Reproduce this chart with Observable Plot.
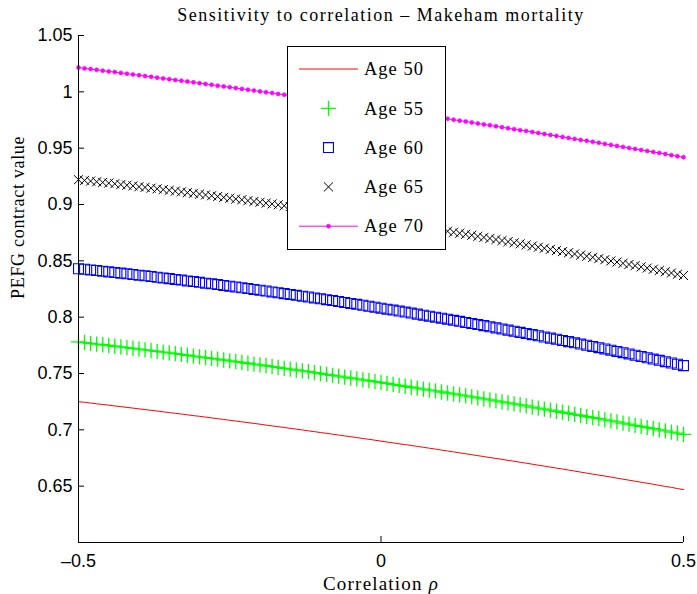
<!DOCTYPE html>
<html>
<head>
<meta charset="utf-8">
<script src="https://cdn.jsdelivr.net/npm/d3@7"></script>
<script src="https://cdn.jsdelivr.net/npm/@observablehq/plot@0.6"></script>
<style>
  html, body { margin: 0; padding: 0; background: #fff; }
</style>
</head>
<body>
<div id="chart"></div>
<script>
// Correlation grid
const rho = [
  -0.50,-0.49,-0.48,-0.47,-0.46,-0.45,-0.44,-0.43,-0.42,-0.41,
  -0.40,-0.39,-0.38,-0.37,-0.36,-0.35,-0.34,-0.33,-0.32,-0.31,
  -0.30,-0.29,-0.28,-0.27,-0.26,-0.25,-0.24,-0.23,-0.22,-0.21,
  -0.20,-0.19,-0.18,-0.17,-0.16,-0.15,-0.14,-0.13,-0.12,-0.11,
  -0.10,-0.09,-0.08,-0.07,-0.06,-0.05,-0.04,-0.03,-0.02,-0.01,
  0.00,
  0.01,0.02,0.03,0.04,0.05,0.06,0.07,0.08,0.09,0.10,
  0.11,0.12,0.13,0.14,0.15,0.16,0.17,0.18,0.19,0.20,
  0.21,0.22,0.23,0.24,0.25,0.26,0.27,0.28,0.29,0.30,
  0.31,0.32,0.33,0.34,0.35,0.36,0.37,0.38,0.39,0.40,
  0.41,0.42,0.43,0.44,0.45,0.46,0.47,0.48,0.49,0.50
];

// PEFG contract values by age at entry
const age50 = [
  0.7250,0.7244,0.7238,0.7231,0.7225,0.7219,0.7212,0.7206,0.7199,0.7193,
  0.7186,0.7180,0.7173,0.7167,0.7160,0.7153,0.7147,0.7140,0.7133,0.7126,
  0.7120,0.7113,0.7106,0.7099,0.7092,0.7085,0.7078,0.7071,0.7064,0.7057,
  0.7050,0.7042,0.7035,0.7028,0.7021,0.7013,0.7006,0.6999,0.6991,0.6984,
  0.6976,0.6969,0.6961,0.6954,0.6946,0.6939,0.6931,0.6923,0.6916,0.6908,
  0.6900,
  0.6892,0.6884,0.6876,0.6869,0.6861,0.6853,0.6845,0.6837,0.6829,0.6820,
  0.6812,0.6804,0.6796,0.6788,0.6779,0.6771,0.6763,0.6754,0.6746,0.6738,
  0.6729,0.6721,0.6712,0.6704,0.6695,0.6686,0.6678,0.6669,0.6660,0.6652,
  0.6643,0.6634,0.6625,0.6616,0.6607,0.6598,0.6590,0.6581,0.6571,0.6562,
  0.6553,0.6544,0.6535,0.6526,0.6517,0.6507,0.6498,0.6489,0.6479,0.6470
];
const age55 = [
  0.7780,0.7774,0.7768,0.7761,0.7755,0.7749,0.7742,0.7736,0.7729,0.7723,
  0.7716,0.7709,0.7703,0.7696,0.7689,0.7683,0.7676,0.7669,0.7662,0.7655,
  0.7648,0.7641,0.7634,0.7627,0.7620,0.7612,0.7605,0.7598,0.7591,0.7583,
  0.7576,0.7569,0.7561,0.7554,0.7546,0.7539,0.7531,0.7523,0.7516,0.7508,
  0.7500,0.7492,0.7484,0.7476,0.7468,0.7460,0.7452,0.7444,0.7436,0.7428,
  0.7420,
  0.7412,0.7404,0.7395,0.7387,0.7378,0.7370,0.7362,0.7353,0.7345,0.7336,
  0.7327,0.7319,0.7310,0.7301,0.7292,0.7284,0.7275,0.7266,0.7257,0.7248,
  0.7239,0.7230,0.7221,0.7212,0.7202,0.7193,0.7184,0.7175,0.7165,0.7156,
  0.7147,0.7137,0.7128,0.7118,0.7108,0.7099,0.7089,0.7080,0.7070,0.7060,
  0.7050,0.7040,0.7030,0.7020,0.7010,0.7000,0.6990,0.6980,0.6970,0.6960
];
const age60 = [
  0.8430,0.8425,0.8419,0.8414,0.8408,0.8402,0.8396,0.8391,0.8385,0.8379,
  0.8373,0.8367,0.8361,0.8354,0.8348,0.8342,0.8335,0.8329,0.8322,0.8316,
  0.8309,0.8302,0.8296,0.8289,0.8282,0.8275,0.8268,0.8261,0.8254,0.8246,
  0.8239,0.8232,0.8224,0.8217,0.8209,0.8202,0.8194,0.8186,0.8179,0.8171,
  0.8163,0.8155,0.8147,0.8139,0.8130,0.8122,0.8114,0.8106,0.8097,0.8089,
  0.8080,
  0.8071,0.8063,0.8054,0.8045,0.8036,0.8027,0.8018,0.8009,0.8000,0.7991,
  0.7982,0.7972,0.7963,0.7953,0.7944,0.7934,0.7925,0.7915,0.7905,0.7895,
  0.7885,0.7875,0.7865,0.7855,0.7845,0.7835,0.7824,0.7814,0.7804,0.7793,
  0.7783,0.7772,0.7761,0.7751,0.7740,0.7729,0.7718,0.7707,0.7696,0.7685,
  0.7674,0.7662,0.7651,0.7640,0.7628,0.7617,0.7605,0.7593,0.7582,0.7570
];
const age65 = [
  0.9220,0.9214,0.9208,0.9202,0.9196,0.9190,0.9184,0.9177,0.9171,0.9165,
  0.9158,0.9152,0.9145,0.9139,0.9132,0.9126,0.9119,0.9112,0.9105,0.9099,
  0.9092,0.9085,0.9078,0.9071,0.9063,0.9056,0.9049,0.9042,0.9034,0.9027,
  0.9020,0.9012,0.9005,0.8997,0.8989,0.8982,0.8974,0.8966,0.8958,0.8950,
  0.8942,0.8934,0.8926,0.8918,0.8910,0.8902,0.8894,0.8885,0.8877,0.8868,
  0.8860,
  0.8851,0.8843,0.8834,0.8826,0.8817,0.8808,0.8799,0.8790,0.8781,0.8772,
  0.8763,0.8754,0.8745,0.8736,0.8727,0.8717,0.8708,0.8699,0.8689,0.8680,
  0.8670,0.8660,0.8651,0.8641,0.8631,0.8621,0.8612,0.8602,0.8592,0.8582,
  0.8572,0.8561,0.8551,0.8541,0.8531,0.8520,0.8510,0.8499,0.8489,0.8478,
  0.8468,0.8457,0.8446,0.8436,0.8425,0.8414,0.8403,0.8392,0.8381,0.8370
];
const age70 = [
  1.0215,1.0208,1.0202,1.0195,1.0188,1.0181,1.0175,1.0168,1.0161,1.0154,
  1.0147,1.0140,1.0133,1.0126,1.0119,1.0112,1.0105,1.0098,1.0091,1.0084,
  1.0077,1.0070,1.0062,1.0055,1.0048,1.0041,1.0033,1.0026,1.0019,1.0011,
  1.0004,0.9996,0.9989,0.9981,0.9974,0.9966,0.9959,0.9951,0.9944,0.9936,
  0.9928,0.9920,0.9913,0.9905,0.9897,0.9889,0.9882,0.9874,0.9866,0.9858,
  0.9850,
  0.9842,0.9834,0.9826,0.9818,0.9810,0.9802,0.9794,0.9786,0.9777,0.9769,
  0.9761,0.9753,0.9744,0.9736,0.9728,0.9719,0.9711,0.9703,0.9694,0.9686,
  0.9677,0.9669,0.9660,0.9652,0.9643,0.9635,0.9626,0.9617,0.9609,0.9600,
  0.9591,0.9582,0.9573,0.9565,0.9556,0.9547,0.9538,0.9529,0.9520,0.9511,
  0.9502,0.9493,0.9484,0.9475,0.9466,0.9457,0.9448,0.9438,0.9429,0.9420
];

const seriesNames = ["Age 50", "Age 55", "Age 60", "Age 65", "Age 70"];
const xTicks = [-0.5, 0, 0.5];
const yTicks = [0.65, 0.7, 0.75, 0.8, 0.85, 0.9, 0.95, 1, 1.05];
const titleText = "Sensitivity to correlation \u2013 Makeham mortality";
const xLabelText = "Correlation \u03c1";
const yLabelText = "PEFG contract value";

const serif = "'Liberation Serif', 'Times New Roman', serif";
const sans = "'Liberation Sans', Arial, Helvetica, sans-serif";

// Line / marker styling per series
const styles = [
  {color: "#ff0000", line: true,  symbol: null,     r: 0,   sw: 1},
  {color: "#00ff00", line: false, symbol: "plus",   r: 5,   sw: 1.3},
  {color: "#0000ff", line: false, symbol: "square", r: 5.6, sw: 1.1},
  {color: "#000000", line: false, symbol: "times",  r: 4.2, sw: 1},
  {color: "#ff00ff", line: true,  symbol: "circle", r: 2,   sw: 0.6}
];
const values = [age50, age55, age60, age65, age70];
const rows = (v) => rho.map((r, i) => ({rho: r, value: v[i]}));

const seriesMarks = [];
values.forEach((v, k) => {
  const s = styles[k];
  const data = rows(v);
  if (s.line) {
    seriesMarks.push(Plot.line(data, {x: "rho", y: "value", stroke: s.color, strokeWidth: 1}));
  }
  if (s.symbol === "circle") {
    seriesMarks.push(Plot.dot(data, {x: "rho", y: "value", r: s.r, symbol: "circle", fill: s.color, stroke: s.color, strokeWidth: s.sw}));
  } else if (s.symbol) {
    seriesMarks.push(Plot.dot(data, {x: "rho", y: "value", r: s.r, symbol: s.symbol, fill: "none", stroke: s.color, strokeWidth: s.sw}));
  }
});

const fmtY = (d) => String(+d.toFixed(2));
const fmtX = (d) => (d < 0 ? "\u2013" + String(Math.abs(d)) : String(d));

const chart = Plot.plot({
  width: 697,
  height: 594,
  marginTop: 35,
  marginRight: 14,
  marginBottom: 52,
  marginLeft: 78,
  style: {background: "#fff", fontFamily: sans, fontSize: "18px", color: "#000", overflow: "visible"},
  x: {domain: [-0.5, 0.5]},
  y: {domain: [0.6, 1.05]},
  marks: [
    ...seriesMarks,
    Plot.ruleX([-0.5], {stroke: "#000", strokeWidth: 1}),
    Plot.ruleY([0.6], {stroke: "#000", strokeWidth: 1}),
    Plot.axisY({ticks: yTicks, tickSize: -6, tickPadding: 12, tickFormat: fmtY, label: null, fontSize: 18, fontFamily: sans}),
    Plot.axisX({ticks: xTicks, tickSize: -6, tickPadding: 18, tickFormat: fmtX, label: null, fontSize: 18, fontFamily: sans}),
    Plot.text([titleText], {text: (d) => d, frameAnchor: "top", dy: -14.5, lineAnchor: "bottom", fontFamily: serif, fontSize: 18}),
    Plot.text([xLabelText], {text: (d) => d, frameAnchor: "bottom", dy: 47, lineAnchor: "bottom", fontFamily: serif, fontSize: 19}),
    Plot.text([yLabelText], {text: (d) => d, frameAnchor: "left", dx: -60, dy: 10, rotate: -90, lineAnchor: "middle", fontFamily: serif, fontSize: 18})
  ]
});

document.getElementById("chart").appendChild(chart);

const svg = d3.select(chart);

// Letter spacing for the serif labels
svg.selectAll("text").filter(function () { return this.textContent === titleText; })
  .attr("letter-spacing", "1.5px");
svg.selectAll("text").filter(function () { return this.textContent === yLabelText; })
  .attr("letter-spacing", "0.7px");

// Italic rho in the x-axis label
svg.selectAll("text").filter(function () { return this.textContent === xLabelText; })
  .attr("letter-spacing", "1.2px")
  .each(function () {
    const t = d3.select(this);
    t.text("Correlation ");
    t.append("tspan").attr("font-style", "italic").text("\u03c1");
  });

// Legend box
const legend = svg.append("g").attr("class", "legend");
const box = {x: 287, y: 46, w: 158, h: 203};
legend.append("rect")
  .attr("x", box.x + 0.5).attr("y", box.y + 0.5)
  .attr("width", box.w).attr("height", box.h)
  .attr("fill", "#fff").attr("stroke", "#000").attr("stroke-width", 1);

const symbolMap = {plus: d3.symbolPlus, square: d3.symbolSquare, times: d3.symbolTimes, circle: d3.symbolCircle};
seriesNames.forEach((name, k) => {
  const s = styles[k];
  const cy = 69 + k * 39.3;
  const g = legend.append("g");
  if (s.line) {
    g.append("line").attr("x1", 299).attr("x2", 358).attr("y1", cy).attr("y2", cy)
      .attr("stroke", s.color).attr("stroke-width", 1);
  }
  if (s.symbol) {
    const path = d3.symbol(symbolMap[s.symbol], s.r * s.r * Math.PI)();
    g.append("path").attr("d", path).attr("transform", `translate(328.5,${cy})`)
      .attr("fill", s.symbol === "circle" ? s.color : "none")
      .attr("stroke", s.color).attr("stroke-width", s.sw);
  }
  g.append("text").attr("x", 364).attr("y", cy + 6.2)
    .attr("text-anchor", "start")
    .attr("font-family", serif).attr("font-size", 18.5).attr("letter-spacing", "1px")
    .attr("fill", "#000").text(name);
});
</script>
</body>
</html>
